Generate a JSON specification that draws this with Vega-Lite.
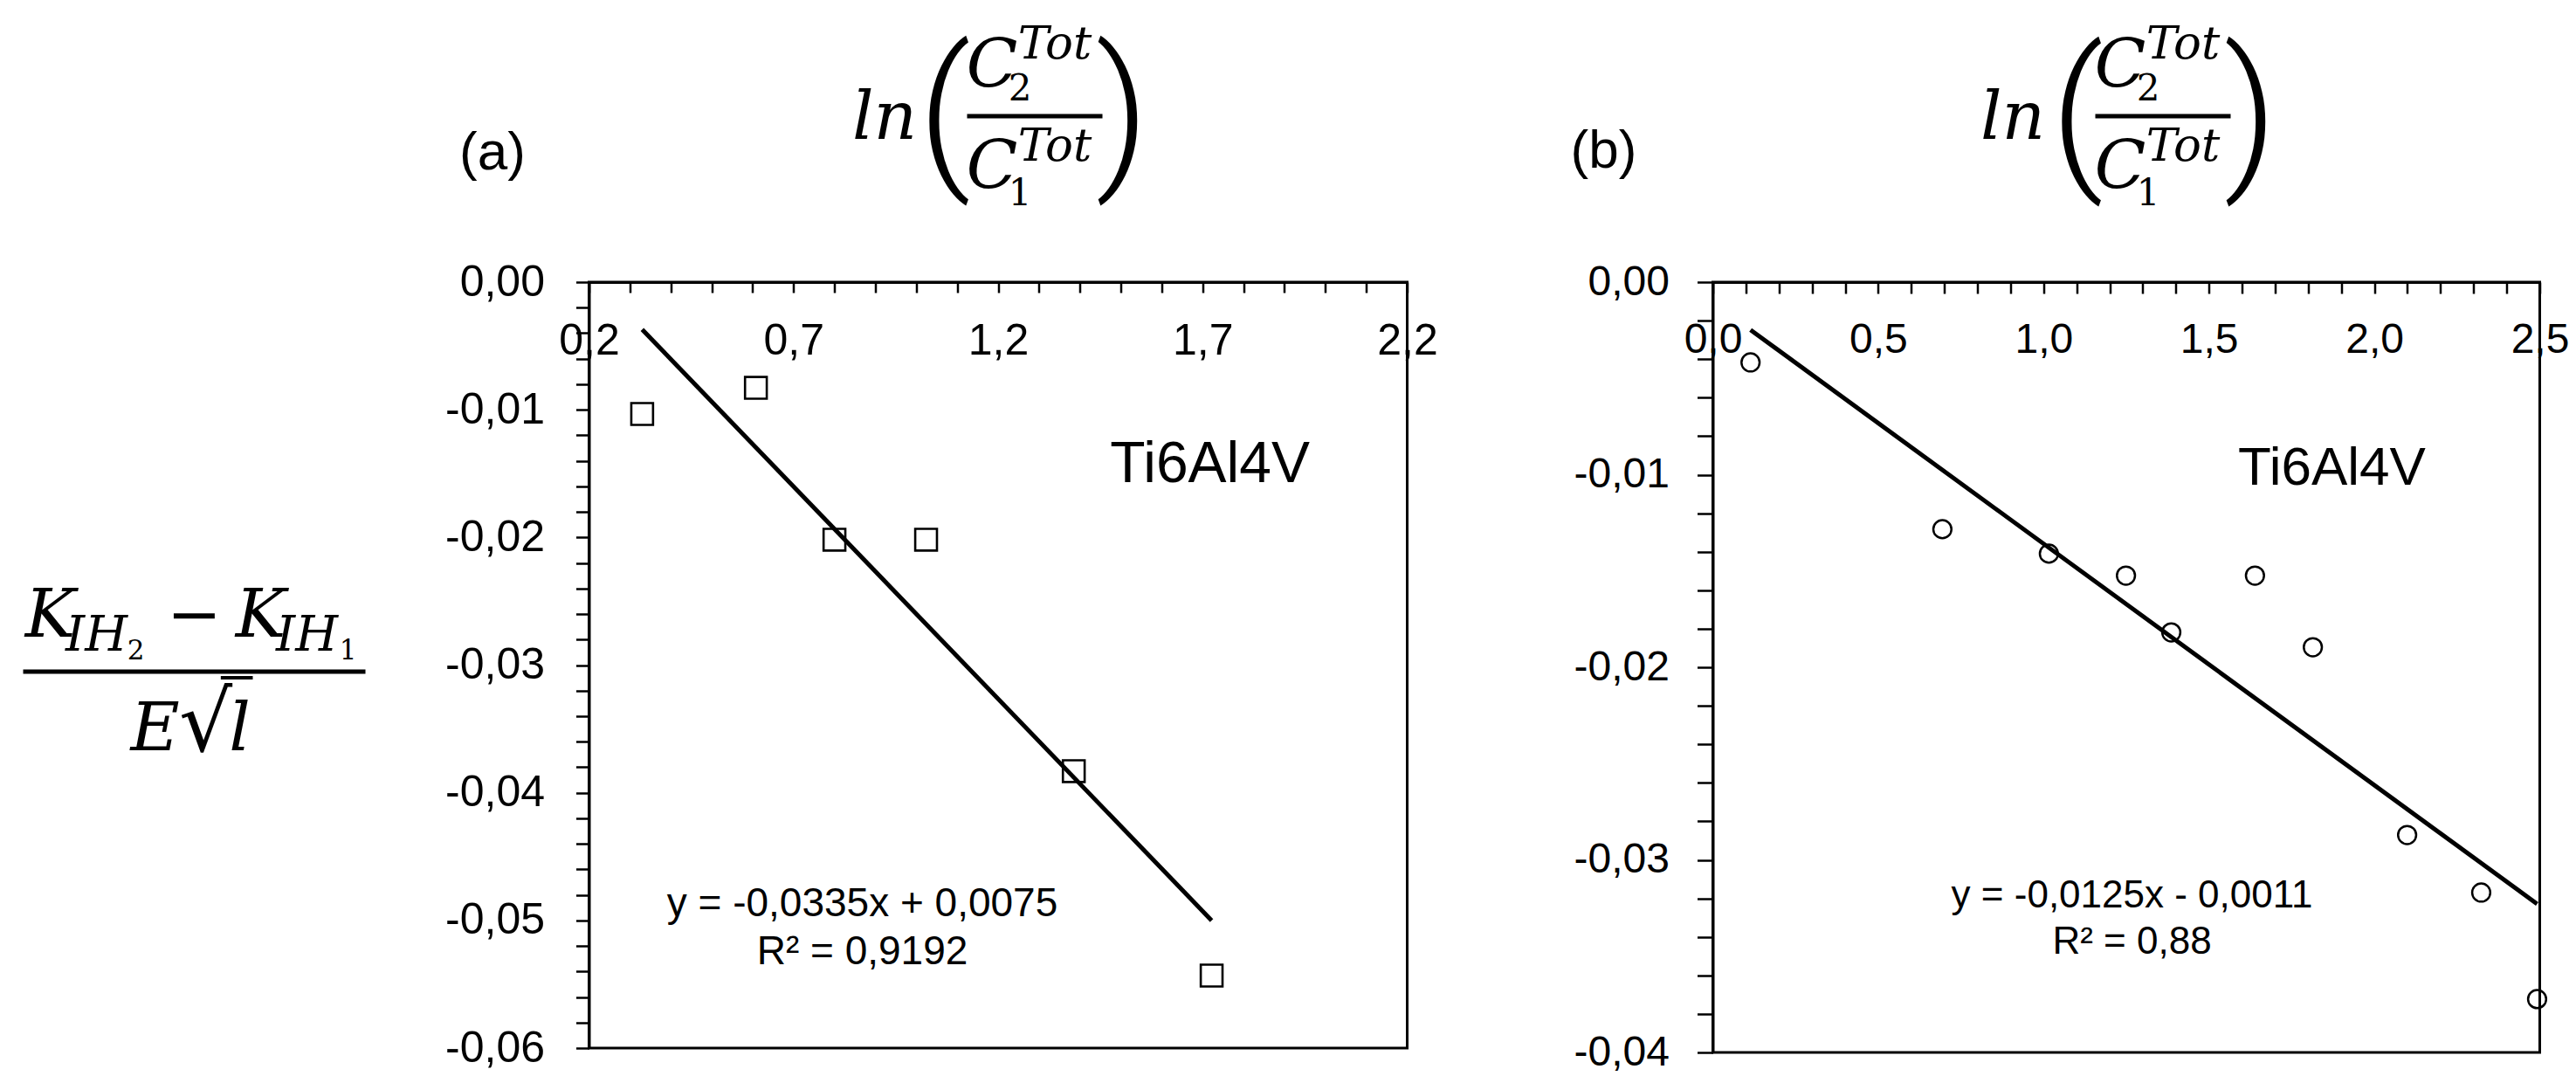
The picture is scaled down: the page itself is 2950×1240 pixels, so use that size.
{
  "$schema": "https://vega.github.io/schema/vega-lite/v6.json",
  "background": "white",
  "padding": {"left": 22.5, "top": 23, "right": 0, "bottom": 0},
  "autosize": {"type": "pad"},
  "bounds": "flush",
  "spacing": 350,
  "config": {"view": {"stroke": "black", "strokeWidth": 3}, "axis": {"labelOverlap": false}},
  "hconcat": [
    {
      "width": 937,
      "height": 877,
      "data": {"values": [
        {"x": 0.330, "y": -0.01033},
        {"x": 0.608, "y": -0.00828},
        {"x": 0.800, "y": -0.02018},
        {"x": 1.024, "y": -0.02018},
        {"x": 1.385, "y": -0.03831},
        {"x": 1.722, "y": -0.05432}
      ]},
      "layer": [
        {
          "mark": {"type": "point", "shape": "square", "size": 620, "filled": false, "color": "black", "strokeWidth": 2.6, "opacity": 1},
          "encoding": {
            "x": {"field": "x", "type": "quantitative",
              "scale": {"domain": [0.2, 2.2], "nice": false, "zero": false},
              "axis": {"orient": "top", "title": null, "grid": false, "tickCount": 1000,
                "values": [0.2,0.3,0.4,0.5,0.6,0.7,0.8,0.9,1.0,1.1,1.2,1.3,1.4,1.5,1.6,1.7,1.8,1.9,2.0,2.1,2.2],
                "labelExpr": "round((datum.value - 0.2) * 10) % 5 === 0 ? replace(format(datum.value, '.1f'), '.', ',') : ''",
                "domainColor": "black", "domainWidth": 3, "tickColor": "black", "tickWidth": 2.5, "tickSize": -12,
                "labelFont": "Liberation Sans", "labelFontSize": 50, "labelColor": "black", "labelBaseline": "top",
                "labelPadding": -30, "labelFlush": false, "labelOverlap": false, "labelBound": false}},
            "y": {"field": "y", "type": "quantitative",
              "scale": {"domain": [-0.06, 0], "nice": false, "zero": false},
              "axis": {"orient": "left", "title": null, "grid": false, "tickCount": 1000,
                "values": [0,-0.002,-0.004,-0.006,-0.008,-0.01,-0.012,-0.014,-0.016,-0.018,-0.02,-0.022,-0.024,-0.026,-0.028,-0.03,-0.032,-0.034,-0.036,-0.038,-0.04,-0.042,-0.044,-0.046,-0.048,-0.05,-0.052,-0.054,-0.056,-0.058,-0.06],
                "labelExpr": "round(datum.value * 500) % 5 === 0 ? replace(replace(format(datum.value, '.2f'), '.', ','), '−', '-') : ''",
                "domainColor": "black", "domainWidth": 3, "tickColor": "black", "tickWidth": 2.5, "tickSize": 15,
                "labelFont": "Liberation Sans", "labelFontSize": 50, "labelColor": "black",
                "labelPadding": 36, "labelFlush": false, "labelOverlap": false, "labelBound": false}}
          }
        },
        {
          "transform": [{"regression": "y", "on": "x"}],
          "mark": {"type": "line", "color": "black", "strokeWidth": 5},
          "encoding": {"x": {"field": "x", "type": "quantitative"}, "y": {"field": "y", "type": "quantitative"}}
        },
        {"data": {"values": [{"t": "Ti6Al4V"}]},
         "mark": {"type": "text", "font": "Liberation Sans", "fontSize": 66, "align": "center", "baseline": "alphabetic", "color": "black"},
         "encoding": {"x": {"datum": 1.718}, "y": {"datum": -0.015667}, "text": {"field": "t"}}},
        {"data": {"values": [{"t": "y = -0,0335x + 0,0075\nR² = 0,9192"}]},
         "mark": {"type": "text", "font": "Liberation Sans", "fontSize": 46, "lineHeight": 55, "lineBreak": "\n", "align": "center", "baseline": "alphabetic", "color": "black"},
         "encoding": {"x": {"datum": 0.8681}, "y": {"datum": -0.049669}, "text": {"field": "t"}}},
        {"data": {"values": [{"t": "(a)"}]},
         "mark": {"type": "text", "font": "Liberation Sans", "fontSize": 62, "align": "center", "baseline": "alphabetic", "color": "black"},
         "encoding": {"x": {"datum": -0.0359}, "y": {"datum": 0.008826}, "text": {"field": "t"}}},
        {"data": {"values": [{"t": "ln"}]},
         "mark": {"type": "text", "font": "DejaVu Serif", "fontStyle": "italic", "fontSize": 77, "align": "center", "baseline": "alphabetic", "color": "black"},
         "encoding": {"x": {"datum": 0.9225}, "y": {"datum": 0.01122}, "text": {"field": "t"}}},
        {"data": {"values": [{"t": "("}]},
         "mark": {"type": "text", "font": "Roboto", "fontWeight": 300, "fontSize": 190, "align": "center", "baseline": "middle", "color": "black"},
         "encoding": {"x": {"datum": 1.0687}, "y": {"datum": 0.012828}, "text": {"field": "t"}}},
        {"data": {"values": [{"t": ")"}]},
         "mark": {"type": "text", "font": "Roboto", "fontWeight": 300, "fontSize": 190, "align": "center", "baseline": "middle", "color": "black"},
         "encoding": {"x": {"datum": 1.5042}, "y": {"datum": 0.012828}, "text": {"field": "t"}}},
        {"data": {"values": [{"t": "C\nC"}]},
         "mark": {"type": "text", "font": "DejaVu Serif", "fontStyle": "italic", "fontSize": 77, "lineHeight": 116, "lineBreak": "\n", "align": "center", "baseline": "alphabetic", "color": "black"},
         "encoding": {"x": {"datum": 1.1851}, "y": {"datum": 0.015325}, "text": {"field": "t"}}},
        {"data": {"values": [{"t": "2\n1"}]},
         "mark": {"type": "text", "font": "DejaVu Serif", "fontSize": 42, "lineHeight": 120, "lineBreak": "\n", "align": "center", "baseline": "alphabetic", "color": "black"},
         "encoding": {"x": {"datum": 1.2534}, "y": {"datum": 0.01423}, "text": {"field": "t"}}},
        {"data": {"values": [{"t": "Tot\nTot"}]},
         "mark": {"type": "text", "font": "DejaVu Serif", "fontStyle": "italic", "fontSize": 53, "lineHeight": 117, "lineBreak": "\n", "align": "center", "baseline": "alphabetic", "color": "black"},
         "encoding": {"x": {"datum": 1.3387}, "y": {"datum": 0.017514}, "text": {"field": "t"}}},
        {"data": {"values": [{"t": "bar"}]},
         "mark": {"type": "rule", "color": "black", "strokeWidth": 5},
         "encoding": {"x": {"datum": 1.1242}, "x2": {"datum": 1.4551}, "y": {"datum": 0.012999}}},
        {"data": {"values": [{"t": "K"}]},
         "mark": {"type": "text", "font": "DejaVu Serif", "fontStyle": "italic", "fontSize": 77, "align": "center", "baseline": "alphabetic", "color": "black"},
         "encoding": {"x": {"datum": -1.117}, "y": {"datum": -0.027776}, "text": {"field": "t"}}},
        {"data": {"values": [{"t": "IH"}]},
         "mark": {"type": "text", "font": "DejaVu Serif", "fontStyle": "italic", "fontSize": 56, "align": "center", "baseline": "alphabetic", "color": "black"},
         "encoding": {"x": {"datum": -1.0038}, "y": {"datum": -0.028871}, "text": {"field": "t"}}},
        {"data": {"values": [{"t": "2"}]},
         "mark": {"type": "text", "font": "DejaVu Serif", "fontSize": 31, "align": "center", "baseline": "alphabetic", "color": "black"},
         "encoding": {"x": {"datum": -0.9078}, "y": {"datum": -0.029555}, "text": {"field": "t"}}},
        {"data": {"values": [{"t": "−"}]},
         "mark": {"type": "text", "font": "DejaVu Serif", "fontSize": 75, "align": "center", "baseline": "alphabetic", "color": "black"},
         "encoding": {"x": {"datum": -0.7648}, "y": {"datum": -0.027776}, "text": {"field": "t"}}},
        {"data": {"values": [{"t": "K"}]},
         "mark": {"type": "text", "font": "DejaVu Serif", "fontStyle": "italic", "fontSize": 77, "align": "center", "baseline": "alphabetic", "color": "black"},
         "encoding": {"x": {"datum": -0.6026}, "y": {"datum": -0.027776}, "text": {"field": "t"}}},
        {"data": {"values": [{"t": "IH"}]},
         "mark": {"type": "text", "font": "DejaVu Serif", "fontStyle": "italic", "fontSize": 56, "align": "center", "baseline": "alphabetic", "color": "black"},
         "encoding": {"x": {"datum": -0.4894}, "y": {"datum": -0.028871}, "text": {"field": "t"}}},
        {"data": {"values": [{"t": "1"}]},
         "mark": {"type": "text", "font": "DejaVu Serif", "fontSize": 31, "align": "center", "baseline": "alphabetic", "color": "black"},
         "encoding": {"x": {"datum": -0.3891}, "y": {"datum": -0.029555}, "text": {"field": "t"}}},
        {"data": {"values": [{"t": "bar"}]},
         "mark": {"type": "rule", "color": "black", "strokeWidth": 5},
         "encoding": {"x": {"datum": -1.1831}, "x2": {"datum": -0.3464}, "y": {"datum": -0.030513}}},
        {"data": {"values": [{"t": "E"}]},
         "mark": {"type": "text", "font": "DejaVu Serif", "fontStyle": "italic", "fontSize": 77, "align": "center", "baseline": "alphabetic", "color": "black"},
         "encoding": {"x": {"datum": -0.8608}, "y": {"datum": -0.036671}, "text": {"field": "t"}}},
        {"data": {"values": [{"t": "√"}]},
         "mark": {"type": "text", "font": "DejaVu Sans", "fontSize": 96, "align": "center", "baseline": "alphabetic", "color": "black"},
         "encoding": {"x": {"datum": -0.737}, "y": {"datum": -0.03674}, "text": {"field": "t"}}},
        {"data": {"values": [{"t": "overbar"}]},
         "mark": {"type": "rule", "color": "black", "strokeWidth": 4},
         "encoding": {"x": {"datum": -0.7}, "x2": {"datum": -0.6218}, "y": {"datum": -0.031}}},
        {"data": {"values": [{"t": "l"}]},
         "mark": {"type": "text", "font": "DejaVu Serif", "fontStyle": "italic", "fontSize": 77, "align": "center", "baseline": "alphabetic", "color": "black"},
         "encoding": {"x": {"datum": -0.6538}, "y": {"datum": -0.036671}, "text": {"field": "t"}}}
      ]
    },
    {
      "width": 947,
      "height": 882,
      "data": {"values": [
        {"x": 0.114, "y": -0.00417},
        {"x": 0.694, "y": -0.01283},
        {"x": 1.016, "y": -0.01410},
        {"x": 1.249, "y": -0.01524},
        {"x": 1.386, "y": -0.01819},
        {"x": 1.639, "y": -0.01524},
        {"x": 1.814, "y": -0.01896},
        {"x": 2.099, "y": -0.02871},
        {"x": 2.323, "y": -0.03170},
        {"x": 2.492, "y": -0.03723}
      ]},
      "layer": [
        {
          "mark": {"type": "point", "shape": "circle", "size": 430, "filled": false, "color": "black", "strokeWidth": 2.5, "opacity": 1},
          "encoding": {
            "x": {"field": "x", "type": "quantitative",
              "scale": {"domain": [0, 2.5], "nice": false, "zero": false},
              "axis": {"orient": "top", "title": null, "grid": false, "tickCount": 1000,
                "values": [0,0.1,0.2,0.3,0.4,0.5,0.6,0.7,0.8,0.9,1.0,1.1,1.2,1.3,1.4,1.5,1.6,1.7,1.8,1.9,2.0,2.1,2.2,2.3,2.4,2.5],
                "labelExpr": "round(datum.value * 10) % 5 === 0 ? replace(format(datum.value, '.1f'), '.', ',') : ''",
                "domainColor": "black", "domainWidth": 3, "tickColor": "black", "tickWidth": 2.5, "tickSize": -13,
                "labelFont": "Liberation Sans", "labelFontSize": 48, "labelColor": "black", "labelBaseline": "top",
                "labelPadding": -29, "labelFlush": false, "labelOverlap": false, "labelBound": false}},
            "y": {"field": "y", "type": "quantitative",
              "scale": {"domain": [-0.04, 0], "nice": false, "zero": false},
              "axis": {"orient": "left", "title": null, "grid": false, "tickCount": 1000,
                "values": [0,-0.002,-0.004,-0.006,-0.008,-0.01,-0.012,-0.014,-0.016,-0.018,-0.02,-0.022,-0.024,-0.026,-0.028,-0.03,-0.032,-0.034,-0.036,-0.038,-0.04],
                "labelExpr": "round(datum.value * 500) % 5 === 0 ? replace(replace(format(datum.value, '.2f'), '.', ','), '−', '-') : ''",
                "domainColor": "black", "domainWidth": 3, "tickColor": "black", "tickWidth": 2.5, "tickSize": 18,
                "labelFont": "Liberation Sans", "labelFontSize": 48, "labelColor": "black",
                "labelPadding": 32, "labelFlush": false, "labelOverlap": false, "labelBound": false}}
          }
        },
        {
          "transform": [{"regression": "y", "on": "x"}],
          "mark": {"type": "line", "color": "black", "strokeWidth": 5},
          "encoding": {"x": {"field": "x", "type": "quantitative"}, "y": {"field": "y", "type": "quantitative"}}
        },
        {"data": {"values": [{"t": "Ti6Al4V"}]},
         "mark": {"type": "text", "font": "Liberation Sans", "fontSize": 62, "align": "center", "baseline": "alphabetic", "color": "black"},
         "encoding": {"x": {"datum": 1.8717}, "y": {"datum": -0.010522}, "text": {"field": "t"}}},
        {"data": {"values": [{"t": "y = -0,0125x - 0,0011\nR² = 0,88"}]},
         "mark": {"type": "text", "font": "Liberation Sans", "fontSize": 44, "lineHeight": 53, "lineBreak": "\n", "align": "center", "baseline": "alphabetic", "color": "black"},
         "encoding": {"x": {"datum": 1.2672}, "y": {"datum": -0.032472}, "text": {"field": "t"}}},
        {"data": {"values": [{"t": "(b)"}]},
         "mark": {"type": "text", "font": "Liberation Sans", "fontSize": 62, "align": "center", "baseline": "alphabetic", "color": "black"},
         "encoding": {"x": {"datum": -0.33}, "y": {"datum": 0.005941}, "text": {"field": "t"}}},
        {"data": {"values": [{"t": "ln"}]},
         "mark": {"type": "text", "font": "DejaVu Serif", "fontStyle": "italic", "fontSize": 77, "align": "center", "baseline": "alphabetic", "color": "black"},
         "encoding": {"x": {"datum": 0.9068}, "y": {"datum": 0.0074376}, "text": {"field": "t"}}},
        {"data": {"values": [{"t": "("}]},
         "mark": {"type": "text", "font": "Roboto", "fontWeight": 300, "fontSize": 190, "align": "center", "baseline": "middle", "color": "black"},
         "encoding": {"x": {"datum": 1.1008}, "y": {"datum": 0.0085034}, "text": {"field": "t"}}},
        {"data": {"values": [{"t": ")"}]},
         "mark": {"type": "text", "font": "Roboto", "fontWeight": 300, "fontSize": 190, "align": "center", "baseline": "middle", "color": "black"},
         "encoding": {"x": {"datum": 1.6262}, "y": {"datum": 0.0085034}, "text": {"field": "t"}}},
        {"data": {"values": [{"t": "C\nC"}]},
         "mark": {"type": "text", "font": "DejaVu Serif", "fontStyle": "italic", "fontSize": 77, "lineHeight": 116, "lineBreak": "\n", "align": "center", "baseline": "alphabetic", "color": "black"},
         "encoding": {"x": {"datum": 1.2315}, "y": {"datum": 0.010159}, "text": {"field": "t"}}},
        {"data": {"values": [{"t": "2\n1"}]},
         "mark": {"type": "text", "font": "DejaVu Serif", "fontSize": 42, "lineHeight": 120, "lineBreak": "\n", "align": "center", "baseline": "alphabetic", "color": "black"},
         "encoding": {"x": {"datum": 1.316}, "y": {"datum": 0.0094331}, "text": {"field": "t"}}},
        {"data": {"values": [{"t": "Tot\nTot"}]},
         "mark": {"type": "text", "font": "DejaVu Serif", "fontStyle": "italic", "fontSize": 53, "lineHeight": 117, "lineBreak": "\n", "align": "center", "baseline": "alphabetic", "color": "black"},
         "encoding": {"x": {"datum": 1.4216}, "y": {"datum": 0.01161}, "text": {"field": "t"}}},
        {"data": {"values": [{"t": "bar"}]},
         "mark": {"type": "rule", "color": "black", "strokeWidth": 5},
         "encoding": {"x": {"datum": 1.1563}, "x2": {"datum": 1.5655}, "y": {"datum": 0.0086168}}}
      ]
    }
  ]
}
